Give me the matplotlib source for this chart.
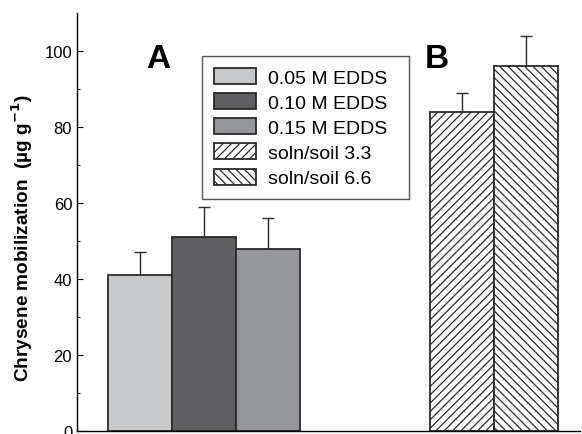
import numpy as np
import matplotlib
matplotlib.use("Agg")
import matplotlib.pyplot as plt

plt.rcParams['font.family'] = ['Liberation Sans', 'DejaVu Sans']
plt.rcParams['hatch.linewidth'] = 0.9

labels = ['0.05 M EDDS', '0.10 M EDDS', '0.15 M EDDS', 'soln/soil 3.3', 'soln/soil 6.6']
positions = [0, 1, 2, 5.03, 6.03]
values = [41, 51, 48, 84, 96]
errors = [6, 8, 8, 5, 8]
colors = ['#c8c9cb', '#5f5f62', '#96979b', 'white', 'white']
hatches = [None, None, None, '////', '\\\\\\\\']

fig = plt.figure(figsize=(5.82, 4.35), dpi=100)
ax = fig.add_axes([0.1323, 0.0069, 0.8643, 0.9609])

for x, v, e, c, h, lab in zip(positions, values, errors, colors, hatches, labels):
	ax.bar(x, v, width=1.0, color=c, edgecolor='#2a2a2a', linewidth=1.3,
		hatch=h, label=lab, zorder=2)
	ax.errorbar(x, v, yerr=[[0], [e]], fmt='none', ecolor='#2a2a2a',
		elinewidth=1.0, capsize=4, capthick=1.0, zorder=1)

ax.set_xlim(-0.98, 6.87)
ax.set_ylim(0, 110)
ax.set_yticks([0, 20, 40, 60, 80, 100])
ax.set_yticks([10, 30, 50, 70, 90], minor=True)
ax.tick_params(axis='y', direction='in', length=4, labelsize=12, width=0.8)
ax.tick_params(axis='y', which='minor', direction='in', length=2.5, width=0.6)
ax.set_xticks([])
ax.spines['top'].set_visible(False)
ax.spines['right'].set_visible(False)
ax.spines['left'].set_linewidth(1.0)
ax.spines['bottom'].set_linewidth(1.0)

ax.set_ylabel('Chrysene mobilization  (µg g$^{\\mathbf{-1}}$)',
	fontsize=13.7, fontweight='bold')
ax.yaxis.set_label_coords(-0.083, 0.464)

ax.text(0.28, 98, 'A', fontsize=24, fontweight='bold', ha='center', va='center')
ax.text(4.63, 98, 'B', fontsize=24, fontweight='bold', ha='center', va='center')

# legend box: x 202-409 px, top at 57 px
leg = ax.legend(loc='upper left', bbox_to_anchor=(0.2485, 0.5, 0.4115, 0.397),
	mode='expand', fontsize=14,
	frameon=True, fancybox=False, edgecolor='#2a2a2a', handlelength=2.2,
	handleheight=0.9, labelspacing=0.33, borderpad=0.6, handletextpad=0.6,
	borderaxespad=0)
leg.get_frame().set_linewidth(1.0)

fig.savefig('out.png', dpi=100)
